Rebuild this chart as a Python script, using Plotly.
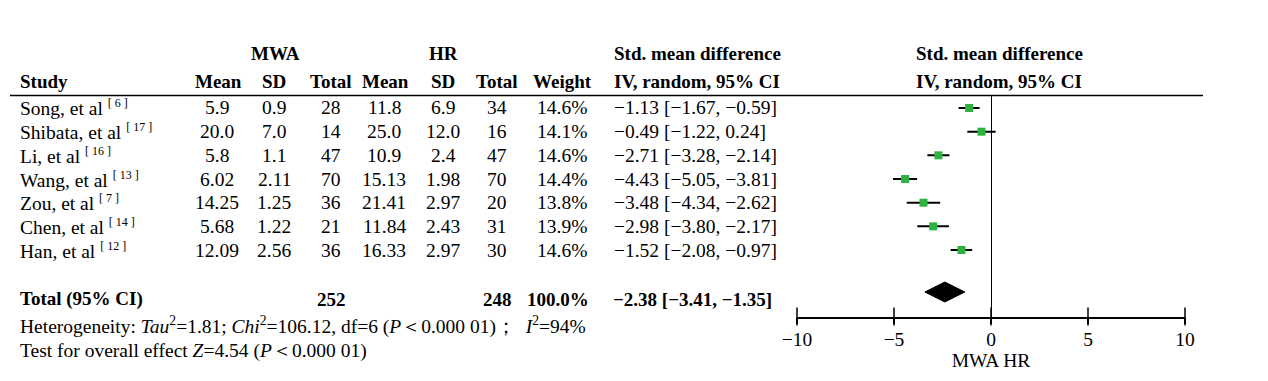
import plotly.graph_objects as go

# ---------------- data ----------------
studies = ["Song, et al", "Shibata, et al", "Li, et al", "Wang, et al",
           "Zou, et al", "Chen, et al", "Han, et al"]
refs = ["6", "17", "16", "13", "7", "14", "12"]
mwa_mean = ["5.9", "20.0", "5.8", "6.02", "14.25", "5.68", "12.09"]
mwa_sd = ["0.9", "7.0", "1.1", "2.11", "1.25", "1.22", "2.56"]
mwa_total = [28, 14, 47, 70, 36, 21, 36]
hr_mean = ["11.8", "25.0", "10.9", "15.13", "21.41", "11.84", "16.33"]
hr_sd = ["6.9", "12.0", "2.4", "1.98", "2.97", "2.43", "2.97"]
hr_total = [34, 16, 47, 70, 20, 31, 30]
weights = ["14.6%", "14.1%", "14.6%", "14.4%", "13.8%", "13.9%", "14.6%"]
smd = [-1.13, -0.49, -2.71, -4.43, -3.48, -2.98, -1.52]
ci_low = [-1.67, -1.22, -3.28, -5.05, -4.34, -3.80, -2.08]
ci_high = [-0.59, 0.24, -2.14, -3.81, -2.62, -2.17, -0.97]

total_mwa = 252
total_hr = 248
total_weight = "100.0%"
pooled = -2.38
pooled_low = -3.41
pooled_high = -1.35

heterogeneity = ("Heterogeneity: <i>Tau</i><sup>2</sup>=1.81; <i>Chi</i><sup>2</sup>=106.12, "
                 "df=6 (<i>P</i>＜0.000 01)；  <i>I</i><sup>2</sup>=94%")
overall = "Test for overall effect <i>Z</i>=4.54 (<i>P</i>＜0.000 01)"

x_ticks = [-10, -5, 0, 5, 10]
x_range = [-10, 10]
axis_title = "MWA HR"

# ---------------- layout helpers ----------------
W, H = 1268, 381
FONT = "Liberation Serif"
FS = 19.5      # regular text
FSB = 19       # bold headers
ROW0, ROWH = 108.0, 23.67
TOP_PX, BOT_PX = 95.5, 316.5


def row_px(i):
    return ROW0 + ROWH * i


def PX(x):
    return x / W


def PY(y):
    return 1 - y / H


def fmt(v):
    s = f"{v:.2f}"
    return s.replace("-", "\u2212")


y_top = (TOP_PX - ROW0) / ROWH
y_bot = (BOT_PX - ROW0) / ROWH
rows = list(range(len(studies)))
total_row_px = 299
diamond_row = (292 - ROW0) / ROWH
diamond_half = 10 / ROWH

fig = go.Figure()

# study estimates with CI
fig.add_trace(go.Scatter(
    x=smd, y=rows, mode="markers",
    marker=dict(symbol="square", size=8, color="#2eb342", line=dict(width=0)),
    error_x=dict(type="data", symmetric=False,
                 array=[h - m for h, m in zip(ci_high, smd)],
                 arrayminus=[m - l for m, l in zip(smd, ci_low)],
                 width=0, thickness=2, color="black"),
    showlegend=False, hoverinfo="skip", cliponaxis=False))

# pooled diamond
fig.add_trace(go.Scatter(
    x=[pooled_low, pooled, pooled_high, pooled, pooled_low],
    y=[diamond_row, diamond_row - diamond_half, diamond_row,
       diamond_row + diamond_half, diamond_row],
    mode="lines", fill="toself", fillcolor="black",
    line=dict(color="black", width=1),
    showlegend=False, hoverinfo="skip", cliponaxis=False))

# tick marks that cross the axis line
fig.add_trace(go.Scatter(
    x=x_ticks, y=[y_bot] * len(x_ticks), mode="markers",
    marker=dict(symbol="line-ns", size=13, line=dict(color="black", width=1.5)),
    showlegend=False, hoverinfo="skip", cliponaxis=False))

fig.update_layout(
    template="none",
    width=W, height=H, autosize=False,
    margin=dict(l=0, r=0, t=0, b=0, pad=0, autoexpand=False),
    paper_bgcolor="white", plot_bgcolor="white",
    font=dict(family=FONT, size=FS, color="black"),
    xaxis=dict(domain=[797 / W, 1185 / W], range=x_range,
               tickvals=x_ticks, ticks="outside", ticklen=6, tickwidth=1.5,
               tickcolor="black", showline=True, linecolor="black", linewidth=1.5,
               showgrid=False, zeroline=True, zerolinecolor="black", zerolinewidth=1,
               tickfont=dict(family=FONT, size=FS, color="black"),
               ticklabelstandoff=-2, automargin=False,
               title=dict(text=axis_title, standoff=0,
                          font=dict(family=FONT, size=FS, color="black"))),
    yaxis=dict(domain=[PY(BOT_PX), PY(TOP_PX)], range=[y_bot, y_top],
               visible=False, showgrid=False, zeroline=False, automargin=False),
)

ann = []


def text(x, y, s, anchor="center", bold=False):
    size = FS
    if bold:
        s = f"<b>{s}</b>"
        size = FSB
    ann.append(dict(x=PX(x), y=PY(y), xref="paper", yref="paper", text=s,
                    showarrow=False, xanchor=anchor, yanchor="middle",
                    borderpad=0,
                    font=dict(family=FONT, size=size, color="black")))


# headers
H1, H2 = 54, 81
text(275, H1, "MWA", bold=True)
text(443, H1, "HR", bold=True)
text(697, H1, "Std. mean difference", bold=True)
text(999, H1, "Std. mean difference", bold=True)
text(19, H2, "Study", anchor="left", bold=True)
text(218, H2, "Mean", bold=True)
text(274, H2, "SD", bold=True)
text(331, H2, "Total", bold=True)
text(385, H2, "Mean", bold=True)
text(443, H2, "SD", bold=True)
text(497, H2, "Total", bold=True)
text(562, H2, "Weight", bold=True)
text(697, H2, "IV, random, 95% CI", bold=True)
text(999, H2, "IV, random, 95% CI", bold=True)

# study rows
for i in rows:
    y = row_px(i)
    text(19, y, f"{studies[i]} <sup><span style='font-size:12px'>[ {refs[i]} ]</span></sup>",
         anchor="left")
    text(217, y, mwa_mean[i])
    text(274, y, mwa_sd[i])
    text(331, y, str(mwa_total[i]))
    text(384, y, hr_mean[i])
    text(443, y, hr_sd[i])
    text(497, y, str(hr_total[i]))
    text(562, y, weights[i])
    text(613, y, f"{fmt(smd[i])} [{fmt(ci_low[i])}, {fmt(ci_high[i])}]", anchor="left")

# total row
text(19, total_row_px, "Total (95% CI)", anchor="left", bold=True)
text(331, total_row_px, str(total_mwa), bold=True)
text(497, total_row_px, str(total_hr), bold=True)
text(558, total_row_px, total_weight, bold=True)
text(612, total_row_px, f"{fmt(pooled)} [{fmt(pooled_low)}, {fmt(pooled_high)}]",
     anchor="left", bold=True)

text(19, 325, heterogeneity, anchor="left")
text(19, 351, overall, anchor="left")

fig.update_layout(annotations=ann)

# header rule
fig.add_shape(type="line", xref="paper", yref="paper",
              x0=PX(10), x1=PX(1203), y0=PY(TOP_PX), y1=PY(TOP_PX),
              line=dict(color="black", width=1.5))

fig.write_html(
    "out.html",
    config={"responsive": False, "displayModeBar": False},
    post_script=("document.body.style.margin='0';"
                 "document.body.style.overflow='hidden';"),
)
